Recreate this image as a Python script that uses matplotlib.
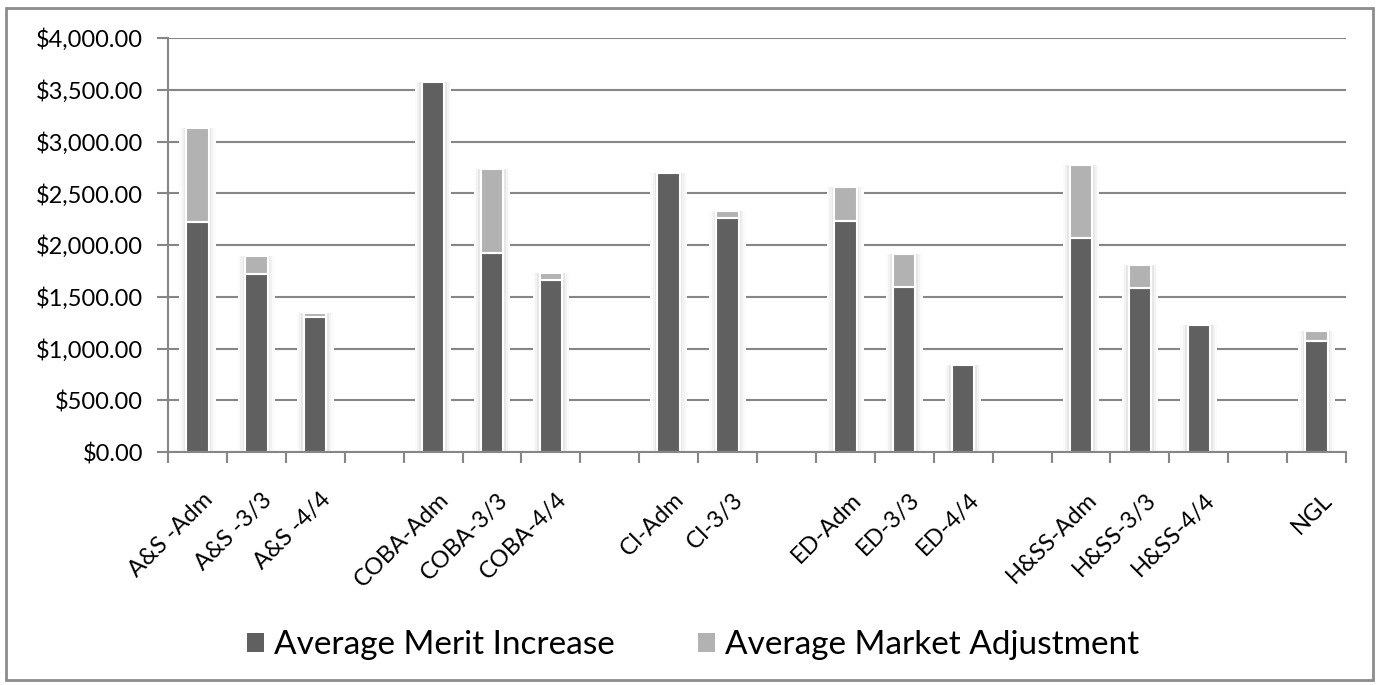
import matplotlib
matplotlib.use("Agg")
import matplotlib.pyplot as plt
import matplotlib.transforms as mtransforms
from matplotlib.patches import Rectangle
from matplotlib.ticker import FuncFormatter, FixedLocator, NullFormatter
import numpy as np

plt.rcParams['font.family'] = ['Lato', 'DejaVu Sans']

categories = ["A&S -Adm", "A&S -3/3", "A&S -4/4", "",
              "COBA-Adm", "COBA-3/3", "COBA-4/4", "",
              "CI-Adm", "CI-3/3", "",
              "ED-Adm", "ED-3/3", "ED-4/4", "",
              "H&SS-Adm", "H&SS-3/3", "H&SS-4/4", "",
              "NGL"]
merit = [2220, 1715, 1305, 0,
         3575, 1925, 1665, 0,
         2695, 2260, 0,
         2230, 1595, 840, 0,
         2070, 1580, 1225, 0,
         1070]
market = [910, 180, 40, 0,
          0, 810, 65, 0,
          0, 65, 0,
          330, 320, 0, 0,
          700, 225, 0, 0,
          95]
yticks = [0, 500, 1000, 1500, 2000, 2500, 3000, 3500, 4000]

W, H = 1378, 685
fig = plt.figure(figsize=(W / 100, H / 100), dpi=100)
ax = fig.add_axes([168 / W, 1 - 452 / H, (1346 - 168) / W, (452 - 38) / H])

dark = "#606060"
light = "#b2b2b2"
gridc = "#868686"

x = np.arange(len(categories))
idx = [i for i, c in enumerate(categories) if c]
m = np.array(merit, dtype=float)
k = np.array(market, dtype=float)
tot = m + k

# soft halo behind bars
for wdt, col, extra in [(0.62, "#fbfbfb", 45), (0.54, "#f2f2f2", 30),
                        (0.47, "#e6e6e6", 18)]:
    ax.bar(x[idx], tot[idx] + extra, bottom=-extra, width=wdt, color=col,
           linewidth=0, zorder=2)

bw = 0.38
b1 = ax.bar(x[idx], m[idx], width=bw, color=dark, edgecolor="white",
            linewidth=1.5, zorder=3, label="Average Merit Increase")
idx2 = [i for i in idx if k[i] > 0]
b2 = ax.bar(x[idx2], k[idx2], bottom=m[idx2], width=bw, color=light,
            edgecolor="white", linewidth=1.5, zorder=3,
            label="Average Market Adjustment")

ax.set_xlim(-0.5, len(categories) - 0.5)
ax.set_ylim(0, 4000)
ax.set_yticks(yticks)
ax.yaxis.set_major_formatter(FuncFormatter(lambda v, p: "${:,.2f}".format(v)))
ax.yaxis.grid(True, color=gridc, linewidth=1.5, zorder=0)
ax.set_axisbelow(True)
for s in ["top", "right"]:
    ax.spines[s].set_visible(False)
for s in ["left", "bottom"]:
    ax.spines[s].set_color(gridc)
    ax.spines[s].set_linewidth(1.5)
    ax.spines[s].set_zorder(4)
ax.tick_params(axis="y", length=8, width=1.5, color=gridc, labelsize=17, pad=10,
               labelcolor="black")

ax.xaxis.set_major_locator(FixedLocator(np.arange(-0.5, len(categories), 1.0)))
ax.xaxis.set_major_formatter(NullFormatter())
ax.tick_params(axis="x", which="major", length=8, width=1.5, color=gridc)

off = mtransforms.ScaledTranslation(5 / 100, -37 / 100, fig.dpi_scale_trans)
for xi, c in zip(x, categories):
    if c:
        ax.text(xi, 0, c, transform=ax.get_xaxis_transform() + off,
                rotation=45, ha="right", va="top", rotation_mode="anchor",
                fontsize=17, color="black")

leg = fig.legend(handles=[b1, b2], loc="center", bbox_to_anchor=(0.503, 1 - 645 / H),
                 ncol=2, frameon=False, fontsize=24, handlelength=0.5,
                 handleheight=0.5, handletextpad=0.3, columnspacing=2.5)
for h in leg.legend_handles:
    h.set_edgecolor("none")

fig.patches.append(Rectangle((6 / W, 1 - 680 / H), (1373 - 6) / W, (680 - 8) / H,
                             transform=fig.transFigure, fill=False,
                             edgecolor="#8c8c8c", linewidth=2))

fig.savefig("out.png", dpi=100)
